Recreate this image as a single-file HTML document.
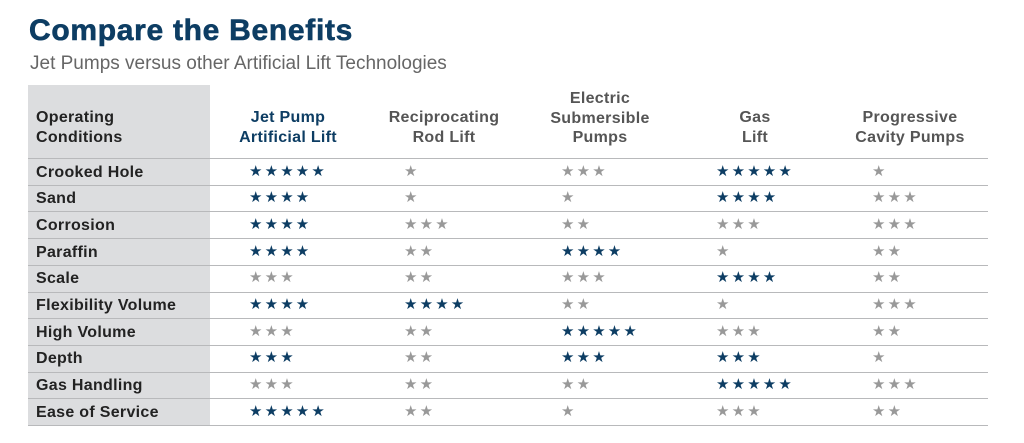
<!DOCTYPE html>
<html><head><meta charset="utf-8"><style>
body{margin:0;width:1024px;height:443px;background:#fff;position:relative;overflow:hidden;font-family:"Liberation Sans",Arial,sans-serif}
.a{position:absolute}
h1{position:absolute;left:29px;top:14px;margin:0;font-size:30px;font-weight:bold;color:#0d3d63;letter-spacing:0.7px;-webkit-text-stroke:0.6px #0d3d63}
.sub{left:30px;top:53px;font-size:19px;color:#666}
.gcol{left:28px;top:85px;width:182px;height:340px;background:#dcdddf}
.hd{font-size:16px;font-weight:bold;color:#555;text-align:center;line-height:19.5px;width:200px;letter-spacing:0.3px}
.line{left:28px;width:960px;height:1px;background:#b8b9bb}
.lab{left:36px;font-size:16px;font-weight:bold;color:#222;line-height:26px;letter-spacing:0.3px}
.st{font-size:15px;line-height:26px;white-space:nowrap}
.st span{display:inline-block;width:15.6px;text-align:left}
.b{color:#0d3d63}.g{color:#999}
</style></head><body>
<h1>Compare the Benefits</h1>
<div class="a sub">Jet Pumps versus other Artificial Lift Technologies</div>
<div class="a gcol"></div>
<div class="a hd" style="left:36px;top:108px;text-align:left;color:#222">Operating<br>Conditions</div>
<div class="a hd" style="left:188px;top:108px;color:#0d3d63">Jet Pump<br>Artificial Lift</div>
<div class="a hd" style="left:344px;top:108px">Reciprocating<br>Rod Lift</div>
<div class="a hd" style="left:500px;top:89px">Electric<br>Submersible<br>Pumps</div>
<div class="a hd" style="left:655px;top:108px">Gas<br>Lift</div>
<div class="a hd" style="left:810px;top:108px">Progressive<br>Cavity Pumps</div>
<div id="rows"></div>
<script>
var d=[["Crooked Hole","5b","1","3","5b","1"],["Sand","4b","1","1","4b","3"],["Corrosion","4b","3","2","3","3"],["Paraffin","4b","2","4b","1","2"],["Scale","3","2","3","4b","2"],["Flexibility Volume","4b","4b","2","1","3"],["High Volume","3","2","5b","3","2"],["Depth","3b","2","3b","3b","1"],["Gas Handling","3","2","2","5b","3"],["Ease of Service","5b","2","1","3","2"]];
var xs=[249,404,561,716,872],h="";
for(var i=0;i<=10;i++){h+='<div class="a line" style="top:'+(158+26.7*i).toFixed(1)+'px"></div>';}
for(var i=0;i<10;i++){var t=(159.5+26.7*i).toFixed(1);h+='<div class="a lab" style="top:'+t+'px">'+d[i][0]+'</div>';
for(var j=0;j<5;j++){var c=d[i][j+1],n=parseInt(c),cl=c.indexOf("b")>=0?"b":"g",s="";for(var k=0;k<n;k++)s+="<span>★</span>";
h+='<div class="a st '+cl+'" style="left:'+xs[j]+'px;top:'+(158.5+26.7*i).toFixed(1)+'px">'+s+'</div>';}}
document.getElementById("rows").innerHTML=h;
</script>
</body></html>
